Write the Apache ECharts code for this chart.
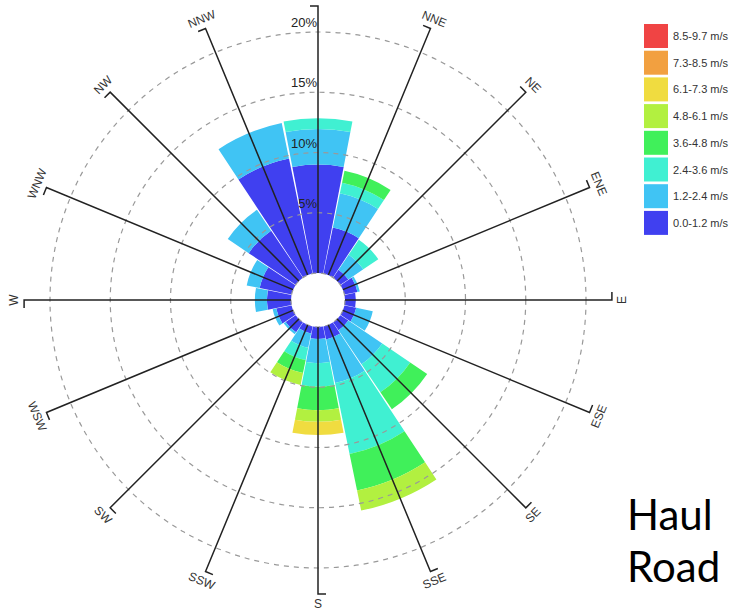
<!DOCTYPE html>
<html>
<head>
<meta charset="utf-8">
<script src="https://cdn.jsdelivr.net/npm/echarts@6/dist/echarts.min.js"></script>
<style>
  html, body { margin: 0; padding: 0; background: #fff; }
  #chart { width: 742px; height: 612px; }
</style>
</head>
<body>
<div id="chart"></div>
<script>
// Compass sectors, clockwise from north
const directions = ['N', 'NNE', 'NE', 'ENE', 'E', 'ESE', 'SE', 'SSE',
                    'S', 'SSW', 'SW', 'WSW', 'W', 'WNW', 'NW', 'NNW'];

// Wind speed classes, innermost first
const speedBins = ['0.0-1.2 m/s', '1.2-2.4 m/s', '2.4-3.6 m/s', '3.6-4.8 m/s',
                   '4.8-6.1 m/s', '6.1-7.3 m/s', '7.3-8.5 m/s', '8.5-9.7 m/s'];

// Frequency (%) of each speed class per direction
const speed00_12 = [9.0, 3.9, 0.8, 1.1, 0.9, 1.0, 0.8, 1.1, 1.0, 0.6, 1.0, 1.3, 2.0, 2.7, 4.7, 9.75];
const speed12_24 = [2.95, 2.9, 1.5, 0.2, 0.0, 1.4, 3.4, 3.7, 2.0, 1.2, 0.2, 0.3, 1.0, 1.1, 2.1, 3.0];
const speed24_36 = [0.9, 0.9, 1.5, 0.0, 0.0, 0.0, 2.8, 6.0, 1.95, 1.05, 0.0, 0.0, 0.0, 0.0, 0.0, 0.0];
const speed36_48 = [0.0, 1.0, 0.0, 0.0, 0.0, 0.0, 1.7, 3.1, 1.95, 1.1, 0.0, 0.0, 0.0, 0.0, 0.0, 0.0];
const speed48_61 = [0.0, 0.0, 0.0, 0.0, 0.0, 0.0, 0.0, 1.7, 0.97, 1.0, 0.0, 0.0, 0.0, 0.0, 0.0, 0.0];
const speed61_73 = [0.0, 0.0, 0.0, 0.0, 0.0, 0.0, 0.0, 0.0, 1.1, 0.0, 0.0, 0.0, 0.0, 0.0, 0.0, 0.0];
const speed73_85 = [0, 0, 0, 0, 0, 0, 0, 0, 0, 0, 0, 0, 0, 0, 0, 0];
const speed85_97 = [0, 0, 0, 0, 0, 0, 0, 0, 0, 0, 0, 0, 0, 0, 0, 0];

const speedData = [speed00_12, speed12_24, speed24_36, speed36_48,
                   speed48_61, speed61_73, speed73_85, speed85_97];

const binColors = ['#4040f0', '#40c4f4', '#40f0d2', '#40f05a',
                   '#b2f040', '#f0dc40', '#f2a040', '#f04444'];

// Radial extent of the frequency scale (%)
const RADIUS_MAX = 20;
const RADIUS_STEP = 5;

// Spokes run a little past the outer ring; labels sit beyond their end
const SPOKE_END = 22.15;
const LABEL_AT = 22.99;
const SPOKE_TICK = 8;

const WIDTH = 742, HEIGHT = 612;
const FONT = '"Liberation Sans", Arial, sans-serif';
const CENTER = [318, 300];
const RADII = [27, 268];

const chart = echarts.init(document.getElementById('chart'), null, { renderer: 'svg' });

const barSeries = speedBins.map((name, k) => ({
  type: 'bar',
  name: name,
  coordinateSystem: 'polar',
  polarIndex: 0,
  stack: 'rose',
  data: speedData[k],
  barCategoryGap: '3%',
  itemStyle: { color: binColors[k] },
  emphasis: { disabled: true },
  silent: true,
  z: 2
}));

// Direction spokes with a short end tick and a tangential label
const spokeSeries = {
  type: 'custom',
  coordinateSystem: 'polar',
  polarIndex: 0,
  silent: true,
  z: 6,
  data: directions.map((d, i) => [SPOKE_END, i]),
  renderItem: function (params, api) {
    const i = params.dataIndex;
    const p0 = api.coord([0, i]);
    const p1 = api.coord([api.value(0), i]);
    const dx = p1[0] - p0[0], dy = p1[1] - p0[1];
    const len = Math.sqrt(dx * dx + dy * dy);
    const ux = dx / len, uy = dy / len;
    const p2 = [p1[0] + uy * SPOKE_TICK, p1[1] - ux * SPOKE_TICK];
    const pl = api.coord([LABEL_AT, i]);
    // compass bearing in degrees, clockwise from north
    let bearing = Math.atan2(ux, -uy) * 180 / Math.PI;
    if (bearing < 0) bearing += 360;
    let rot = bearing;
    if (bearing >= 90 && bearing < 270) rot = bearing - 180;
    const children = [{
      type: 'polyline',
      shape: { points: [p0, p1, p2] },
      style: { stroke: '#222', lineWidth: 1.5, fill: null }
    }];
    // a label whose anchor falls off the canvas is left out
    const inside = pl[0] > 4 && pl[0] < WIDTH - 4 && pl[1] > 4 && pl[1] < HEIGHT - 4;
    if (inside) {
      children.push({
        type: 'text',
        x: pl[0],
        y: pl[1],
        rotation: -rot * Math.PI / 180,
        style: {
          text: directions[i],
          fill: '#333',
          font: '12px ' + FONT,
          align: 'center',
          verticalAlign: 'middle'
        }
      });
    }
    return { type: 'group', children: children };
  }
};

const option = {
  animation: false,
  backgroundColor: '#fff',
  textStyle: { fontFamily: FONT },
  polar: [
    { center: CENTER, radius: RADII },
    { center: CENTER, radius: RADII }
  ],
  angleAxis: [
    {
      polarIndex: 0,
      type: 'category',
      data: directions,
      startAngle: 90 + 360 / directions.length / 2,
      clockwise: true,
      axisLine: { show: false },
      axisTick: { show: false },
      axisLabel: { show: false },
      splitLine: { show: false }
    },
    {
      polarIndex: 1,
      type: 'value',
      min: 0,
      max: 360,
      startAngle: 90,
      show: false
    }
  ],
  radiusAxis: [
    {
      polarIndex: 0,
      type: 'value',
      min: 0,
      max: RADIUS_MAX,
      interval: RADIUS_STEP,
      show: false
    },
    {
      polarIndex: 1,
      type: 'value',
      min: 0,
      max: RADIUS_MAX,
      interval: RADIUS_STEP,
      z: 5,
      axisLine: { show: false },
      axisTick: { show: false },
      axisLabel: {
        showMinLabel: false,
        formatter: '{value}%',
        fontSize: 13,
        color: '#222',
        fontFamily: FONT,
        margin: 1,
        verticalAlign: 'bottom',
        padding: [0, 0, 3, 0]
      },
      splitLine: {
        show: true,
        showMinLine: false,
        lineStyle: { color: '#999', width: 1.2, type: [5, 5] }
      }
    }
  ],
  legend: {
    orient: 'vertical',
    left: 639,
    top: 19,
    itemWidth: 24,
    itemHeight: 24,
    itemGap: 2.7,
    icon: 'rect',
    selectedMode: false,
    data: speedBins.slice().reverse(),
    textStyle: { fontSize: 11, color: '#333', fontFamily: FONT }
  },
  graphic: [
    {
      type: 'text',
      left: 627,
      top: 488,
      style: {
        text: 'Haul\nRoad',
        font: '42px Lato, "Open Sans", sans-serif',
        lineHeight: 52,
        fill: '#000'
      }
    }
  ],
  series: barSeries.concat([spokeSeries])
};

chart.setOption(option);
</script>
</body>
</html>
